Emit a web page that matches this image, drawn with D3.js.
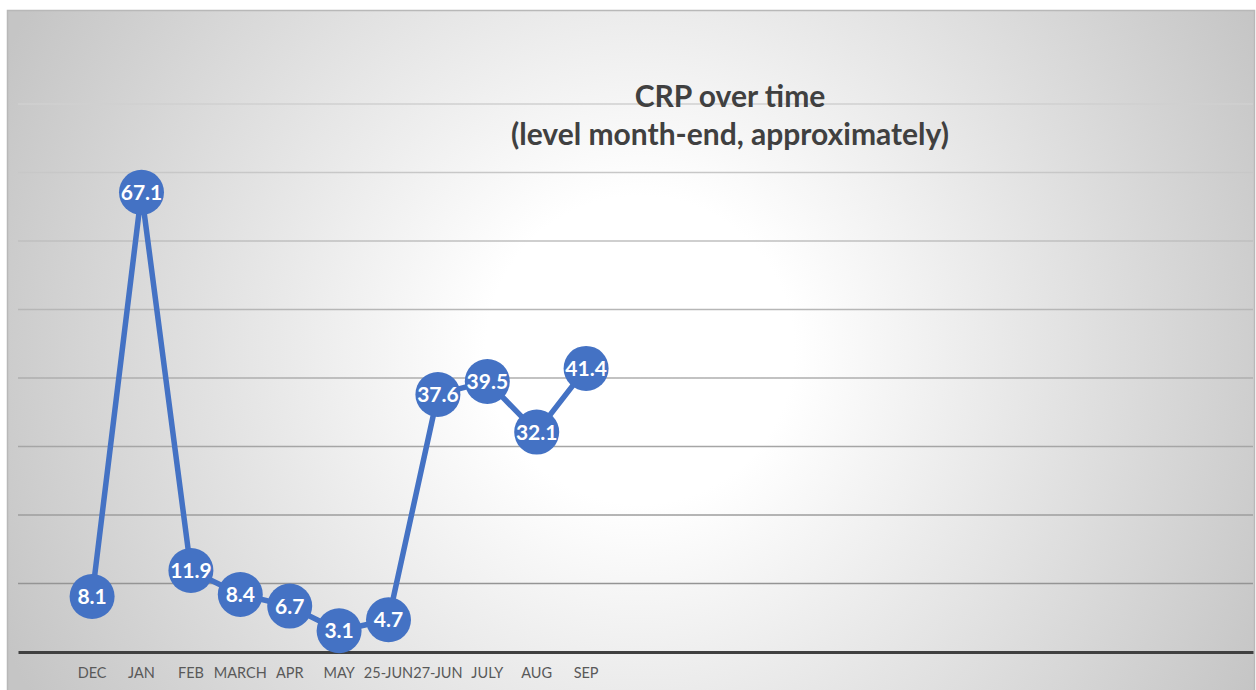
<!DOCTYPE html>
<html>
<head>
<meta charset="utf-8">
<script src="https://cdn.jsdelivr.net/npm/d3@7"></script>
<style>
  html, body { margin: 0; padding: 0; background: #ffffff; }
  svg { display: block; }
</style>
</head>
<body>
<div class="chart"></div>
<script>
// Categories (first slot and the trailing ones are empty in the original sheet)
const categories = ["", "DEC", "JAN", "FEB", "MARCH", "APR", "MAY", "25-JUN", "27-JUN", "JULY", "AUG", "SEP",
  "", "", "", "", "", "", "", "", "", "", "", "", ""];
const crp = [null, 8.1, 67.1, 11.9, 8.4, 6.7, 3.1, 4.7, 37.6, 39.5, 32.1, 41.4,
  null, null, null, null, null, null, null, null, null, null, null, null, null];
const gridValues = [10, 20, 30, 40, 50, 60, 70, 80];
const titleLines = ["CRP over time", "(level month-end, approximately)"];

const W = 1256, H = 690;
const plot = { left: 18, right: 1253, top: 104, bottom: 652 };

const svg = d3.select(".chart").append("svg")
  .attr("width", W)
  .attr("height", H);

const defs = svg.append("defs");

// background: grey radial gradient, white in the middle
const bg = defs.append("radialGradient")
  .attr("id", "bg")
  .attr("gradientUnits", "userSpaceOnUse")
  .attr("cx", 640).attr("cy", 350).attr("r", 700);
bg.append("stop").attr("offset", 0).attr("stop-color", "#ffffff");
bg.append("stop").attr("offset", 0.22).attr("stop-color", "#ffffff");
bg.append("stop").attr("offset", 1).attr("stop-color", "#c5c5c5");

// gridlines go from light at the top to darker at the bottom
const gg = defs.append("linearGradient")
  .attr("id", "grid")
  .attr("gradientUnits", "userSpaceOnUse")
  .attr("x1", 0).attr("y1", plot.top).attr("x2", 0).attr("y2", plot.bottom);
gg.append("stop").attr("offset", 0).attr("stop-color", "#d0d0d0");
gg.append("stop").attr("offset", 1).attr("stop-color", "#8c8c8c");

svg.append("rect")
  .attr("x", 7.5).attr("y", 10.5)
  .attr("width", 1247).attr("height", 700)
  .attr("fill", "url(#bg)")
  .attr("stroke", "#b8b8b8")
  .attr("stroke-width", 1.5);

// scales
const x = d3.scaleBand()
  .domain(d3.range(categories.length))
  .range([plot.left, plot.right]);

const y = d3.scaleLinear()
  .domain([0, 80])
  .range([plot.bottom, plot.top]);

// gridlines
svg.append("g")
  .selectAll("line")
  .data(gridValues)
  .join("line")
  .attr("x1", plot.left)
  .attr("x2", plot.right)
  .attr("y1", d => y(d))
  .attr("y2", d => y(d))
  .attr("stroke", "url(#grid)")
  .attr("stroke-width", 1.6);

// x axis
const xAxis = svg.append("g")
  .attr("transform", `translate(0,${y(0)})`)
  .call(d3.axisBottom(x).tickSize(0).tickPadding(16).tickFormat(i => categories[i]));
xAxis.select(".domain")
  .attr("stroke", "#404040")
  .attr("stroke-width", 3.2);
xAxis.selectAll("text")
  .attr("fill", "#595959")
  .style("font-family", "Lato, 'Open Sans', sans-serif")
  .style("font-size", "14.5px");

// the series
const points = crp.map((v, i) => ({ i, v })).filter(d => d.v !== null);

svg.append("path")
  .datum(points)
  .attr("fill", "none")
  .attr("stroke", "#4472c4")
  .attr("stroke-width", 5.5)
  .attr("stroke-linejoin", "round")
  .attr("d", d3.line()
    .x(d => x(d.i) + x.bandwidth() / 2)
    .y(d => y(d.v)));

const marks = svg.append("g")
  .selectAll("g")
  .data(points)
  .join("g")
  .attr("transform", d => `translate(${x(d.i) + x.bandwidth() / 2},${y(d.v)})`);

marks.append("circle")
  .attr("r", 22.5)
  .attr("fill", "#4472c4");

marks.append("text")
  .attr("text-anchor", "middle")
  .attr("dy", "0.36em")
  .attr("fill", "#ffffff")
  .style("font-family", "Lato, 'Open Sans', sans-serif")
  .style("font-weight", "700")
  .style("font-size", "21px")
  .text(d => d.v.toFixed(1));

// title
svg.append("text")
  .attr("x", 730)
  .attr("text-anchor", "middle")
  .attr("fill", "#404040")
  .style("font-family", "Lato, 'Open Sans', sans-serif")
  .style("font-weight", "700")
  .style("font-size", "30px")
  .selectAll("tspan")
  .data(titleLines)
  .join("tspan")
  .attr("x", 730)
  .attr("y", (d, i) => 107 + i * 38)
  .text(d => d);
</script>
</body>
</html>
